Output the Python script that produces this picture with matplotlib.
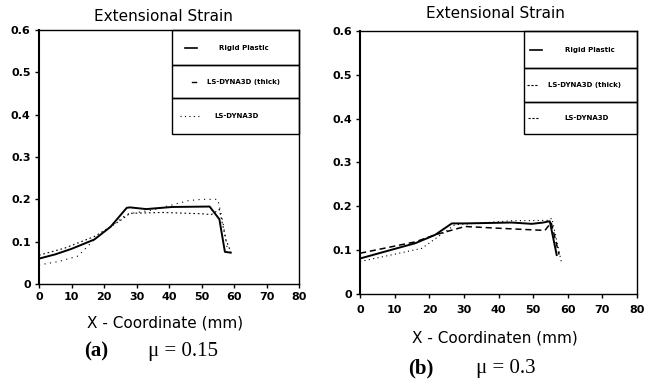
import matplotlib
matplotlib.use("Agg")
import matplotlib.pyplot as plt
from matplotlib.patches import Rectangle

# (a) mu = 0.15
xa_rigid = [0, 5, 10, 17, 22, 27, 28, 33, 41, 52.5, 55.5, 57.2, 59]
ya_rigid = [0.060, 0.070, 0.083, 0.105, 0.135, 0.180, 0.181, 0.177, 0.182, 0.183, 0.153, 0.076, 0.074]
xa_thick = [0, 8, 17, 22, 25, 28, 38, 50, 53, 55.5, 57.5, 59]
ya_thick = [0.068, 0.085, 0.112, 0.135, 0.150, 0.167, 0.169, 0.166, 0.164, 0.176, 0.105, 0.076]
xa_dyna = [0, 6, 12, 17, 22, 27, 35, 46, 50, 55, 56.5, 58]
ya_dyna = [0.045, 0.053, 0.066, 0.105, 0.135, 0.165, 0.175, 0.197, 0.200, 0.200, 0.150, 0.080]

# (b) mu = 0.3
xb_rigid = [0, 16, 21.7, 26.5, 30.3, 43.8, 49.6, 52.9, 54.8, 56.8]
yb_rigid = [0.081, 0.116, 0.135, 0.161, 0.161, 0.163, 0.160, 0.163, 0.166, 0.089]
xb_thick = [0, 17.8, 22.6, 27.4, 43.8, 54.4, 55.4, 58.2]
yb_thick = [0.074, 0.104, 0.131, 0.158, 0.167, 0.168, 0.173, 0.071]
xb_dyna = [0, 16, 21.7, 30.3, 40, 53.4, 55.2, 57.5]
yb_dyna = [0.093, 0.119, 0.135, 0.154, 0.150, 0.145, 0.163, 0.090]

legend_labels = ["Rigid Plastic", "LS-DYNA3D (thick)", "LS-DYNA3D"]
xticks = [0, 10, 20, 30, 40, 50, 60, 70, 80]
yticks = [0, 0.1, 0.2, 0.3, 0.4, 0.5, 0.6]
ytick_labels = ["0", "0.1", "0.2", "0.3", "0.4", "0.5", "0.6"]

fig = plt.figure(figsize=(6.5, 3.83), dpi=100)
ax1 = fig.add_axes([0.060, 0.2585, 0.400, 0.663])
ax2 = fig.add_axes([0.554, 0.2324, 0.426, 0.6867])


def style_axes(ax, xpad=3):
    ax.set_xlim(0, 80)
    ax.set_ylim(0, 0.6)
    ax.set_xticks(xticks)
    ax.set_xticklabels([str(t) for t in xticks], fontsize=8, fontweight="bold")
    ax.set_yticks(yticks)
    ax.set_yticklabels(ytick_labels, fontsize=8, fontweight="bold")
    ax.tick_params(direction="out", length=3, width=1, pad=3)
    ax.tick_params(axis="x", pad=xpad)
    for s in ax.spines.values():
        s.set_linewidth(1.0)
    ax.spines["left"].set_linewidth(1.5)


def legend_box(ax, x0, rows, samples, text_x):
    # three stacked boxes like the original plotter legend
    for (top, bot) in rows:
        ax.add_patch(Rectangle((x0, bot), 1.0 - x0, top - bot, transform=ax.transAxes,
                               fill=False, lw=1.0, ec="black", clip_on=False))
    for (top, bot), (sx, ls, lw), tx, lab in zip(rows, samples, text_x, legend_labels):
        yc = (top + bot) / 2
        ax.plot(sx, [yc, yc], transform=ax.transAxes, color="black", ls=ls, lw=lw, clip_on=False)
        ax.text(tx, yc, lab, transform=ax.transAxes, fontsize=5, fontweight="bold",
                ha="center", va="center")


# panel (a)
ax1.plot(xa_rigid, ya_rigid, color="black", lw=1.4)
ax1.plot(xa_thick, ya_thick, color="black", lw=0.8, ls=(0, (1.5, 2.5)))
ax1.plot(xa_dyna, ya_dyna, color="black", lw=0.8, ls=(0, (1, 4)))
style_axes(ax1)
legend_box(ax1, 0.51,
           [(1.0, 0.862), (0.862, 0.732), (0.732, 0.59)],
           [([0.56, 0.608], "-", 1.2), ([0.588, 0.602], "-", 1.0), ([0.542, 0.62], (0, (1, 3)), 0.8)],
           [0.787, 0.787, 0.758])

# panel (b)
ax2.plot(xb_rigid, yb_rigid, color="black", lw=1.4)
ax2.plot(xb_thick, yb_thick, color="black", lw=0.8, ls=(0, (1, 3)))
ax2.plot(xb_dyna, yb_dyna, color="black", lw=1.1, ls=(0, (4, 2.5)))
style_axes(ax2, xpad=5)
legend_box(ax2, 0.592,
           [(1.0, 0.859), (0.859, 0.730), (0.730, 0.608)],
           [([0.614, 0.657], "-", 1.2), ([0.603, 0.643], (0, (2, 1.5)), 0.8), ([0.606, 0.643], (0, (2, 1.5)), 0.8)],
           [0.830, 0.809, 0.818])

# titles, axis labels and captions placed as in the scanned figure
fig.text(0.251, 0.956, "Extensional Strain", fontsize=11, ha="center", va="center")
fig.text(0.762, 0.966, "Extensional Strain", fontsize=11, ha="center", va="center")
fig.text(0.254, 0.157, "X - Coordinate (mm)", fontsize=11, ha="center", va="center")
fig.text(0.762, 0.1175, "X - Coordinaten (mm)", fontsize=11, ha="center", va="center")

fig.text(0.148, 0.081, "(a)", fontsize=15, family="Liberation Serif", fontweight="bold",
         ha="center", va="center")
fig.text(0.281, 0.081, "\u03bc = 0.15", fontsize=15, family="Liberation Serif",
         ha="center", va="center")
fig.text(0.648, 0.039, "(b)", fontsize=15, family="Liberation Serif", fontweight="bold",
         ha="center", va="center")
fig.text(0.778, 0.039, "\u03bc = 0.3", fontsize=15, family="Liberation Serif",
         ha="center", va="center")

fig.savefig("out.png", dpi=100)
